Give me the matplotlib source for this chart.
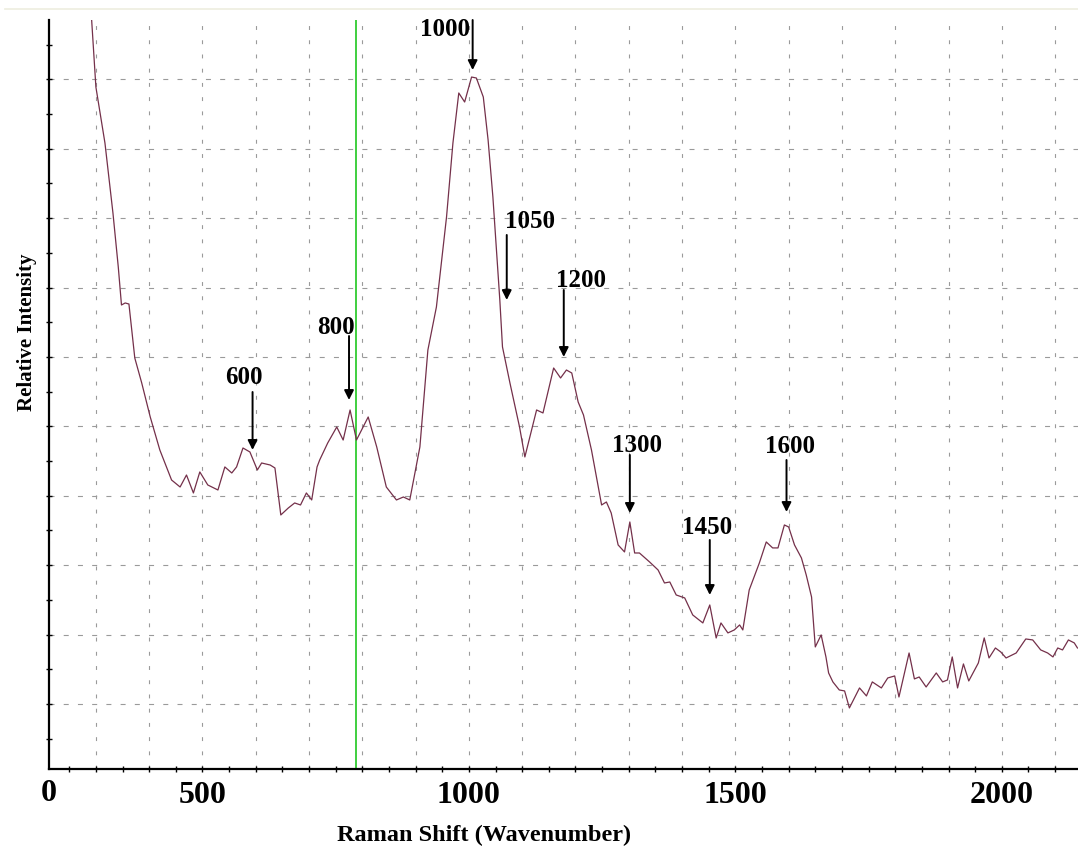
import matplotlib
matplotlib.use("Agg")
import matplotlib.pyplot as plt
from matplotlib.lines import Line2D
import numpy as np

plt.rcParams['font.family'] = ['Liberation Serif', 'DejaVu Serif']
plt.rcParams['font.weight'] = 'bold'

# Raman spectrum (wavenumber, relative intensity)
shift = [292, 296, 300, 317, 332, 342, 348, 355, 362, 373, 386, 402, 420, 442, 458,
         470, 483, 495, 510, 529, 542, 555, 564, 576, 589, 603, 611, 627, 636, 647,
         661, 673, 684, 695, 705, 715, 720, 735, 752, 764, 777, 789, 811, 827, 845,
         864, 877, 889, 908, 923, 939, 958, 970, 981, 992, 1005, 1014, 1027, 1036, 1045,
         1058, 1063, 1077, 1095, 1105, 1127, 1139, 1159, 1172, 1183, 1193, 1205, 1215, 1230, 1249,
         1258, 1267, 1280, 1292, 1302, 1311, 1320, 1339, 1355, 1367, 1377, 1389, 1405, 1420, 1439,
         1452, 1464, 1473, 1486, 1498, 1508, 1514, 1526, 1545, 1558, 1570, 1580, 1592, 1600, 1611,
         1624, 1633, 1643, 1650, 1661, 1670, 1675, 1683, 1695, 1705, 1714, 1733, 1746, 1757, 1774,
         1786, 1799, 1807, 1826, 1836, 1845, 1858, 1877, 1889, 1898, 1907, 1917, 1928, 1938, 1956,
         1967, 1976, 1988, 1998, 2008, 2027, 2045, 2058, 2073, 2086, 2096, 2105, 2114, 2125, 2136,
         2142]
intensity = [10860, 10380, 9890, 9083, 8075, 7297, 6749, 6778, 6763, 5985, 5625, 5135, 4659, 4227, 4126,
             4299, 4040, 4343, 4155, 4083, 4415, 4328, 4415, 4688, 4631, 4371, 4472, 4443, 4400, 3723,
             3823, 3896, 3867, 4040, 3939, 4415, 4516, 4760, 4991, 4803, 5236, 4803, 5135, 4703, 4126,
             3939, 3982, 3939, 4703, 6100, 6720, 8017, 9083, 9804, 9674, 10034, 10020, 9746, 9127, 8305,
             6821, 6144, 5625, 4991, 4559, 5236, 5193, 5841, 5697, 5812, 5769, 5351, 5164, 4659, 3867,
             3910, 3752, 3291, 3190, 3622, 3175, 3175, 3046, 2930, 2743, 2757, 2570, 2527, 2282, 2167,
             2426, 1950, 2167, 2023, 2066, 2138, 2066, 2642, 3031, 3334, 3248, 3248, 3579, 3550, 3291,
             3103, 2858, 2541, 1821, 1994, 1677, 1446, 1317, 1201, 1187, 942, 1230, 1115, 1317, 1230,
             1374, 1403, 1100, 1734, 1360, 1388, 1244, 1446, 1317, 1345, 1677, 1230, 1576, 1331, 1590,
             1951, 1662, 1806, 1749, 1662, 1734, 1936, 1922, 1778, 1734, 1677, 1806, 1778, 1922, 1879,
             1806]

# peak annotations
peak_labels = ['600', '800', '1000', '1050', '1200', '1300', '1450', '1600']
label_x = [578, 750, 955, 1114, 1210, 1315, 1446, 1602]
label_y = [5711, 6418, 10726, 7945, 7109, 4717, 3536, 4703]
arrow_x = [594, 775, 1007, 1071, 1178, 1302, 1452, 1596]
arrow_tail = [5495, 6302, 10856, 7758, 6965, 4588, 3363, 4515]
arrow_tip = [4660, 5380, 10135, 6821, 6000, 3752, 2570, 3766]

cursor_x = 789
x_ticklabels = ['500', '1000', '1500', '2000']

xmin, xmax = 212, 2143
ymin, ymax = 62, 10856

fig = plt.figure(figsize=(10.78, 8.5), dpi=100)
ax = fig.add_axes([49 / 1078, 81 / 850, 1 - 49 / 1078, (769 - 20) / 850])

ax.plot(shift, intensity, color='#74304a', lw=0.9, zorder=3)
ax.axvline(cursor_x, color='#3fcf3f', lw=1.4, zorder=2)

# dashed grid
for gx in np.arange(300, 2101, 100):
    ax.axvline(gx, color='#9a9a9a', lw=0.8, ls=(0, (3.5, 9.3)), zorder=1)
for gy in np.arange(1000, 10001, 1000):
    ax.axhline(gy, color='#9a9a9a', lw=0.8, ls=(0, (4.5, 8.3)), zorder=1)

ax.set_xlim(xmin, xmax)
ax.set_ylim(ymin, ymax)

xt = np.arange(250, 2101, 50)
ax.set_xticks(xt)
ax.set_xticklabels([str(v) if str(v) in x_ticklabels else '' for v in xt])
ax.set_yticks(np.arange(500, 10501, 500))
ax.set_yticklabels([])
ax.tick_params(axis='x', direction='inout', length=5, width=1, pad=6,
               labelsize=23)
ax.tick_params(axis='y', direction='inout', length=5, width=1)
ax.text(xmin, -80, '0', transform=ax.transData, ha='center', va='top',
        fontsize=23, fontweight='bold', clip_on=False)

for s in ['top', 'right']:
    ax.spines[s].set_visible(False)
for s in ['left', 'bottom']:
    ax.spines[s].set_linewidth(1.6)

ax.set_xlabel('Raman Shift (Wavenumber)', fontsize=17.5, fontweight='bold')
ax.xaxis.set_label_coords(0.423, -0.074)
ax.set_ylabel('Relative Intensity', fontsize=15, fontweight='bold')
ax.yaxis.set_label_coords(-0.012, 0.583)

for lab, tx, ty, px, tail, tip in zip(peak_labels, label_x, label_y, arrow_x, arrow_tail, arrow_tip):
    ax.text(tx, ty, lab, ha='center', va='center', fontsize=18, fontweight='bold', zorder=5)
    ax.annotate('', xy=(px, tip), xytext=(px, tail),
                arrowprops=dict(arrowstyle='-|>', color='black', lw=1.4,
                                mutation_scale=14, shrinkA=0, shrinkB=0),
                zorder=5, annotation_clip=False)

fig.add_artist(Line2D([0.005, 1], [1 - 9 / 850, 1 - 9 / 850], color='#ededdf', lw=1.2))

fig.savefig('out.png', dpi=100)
